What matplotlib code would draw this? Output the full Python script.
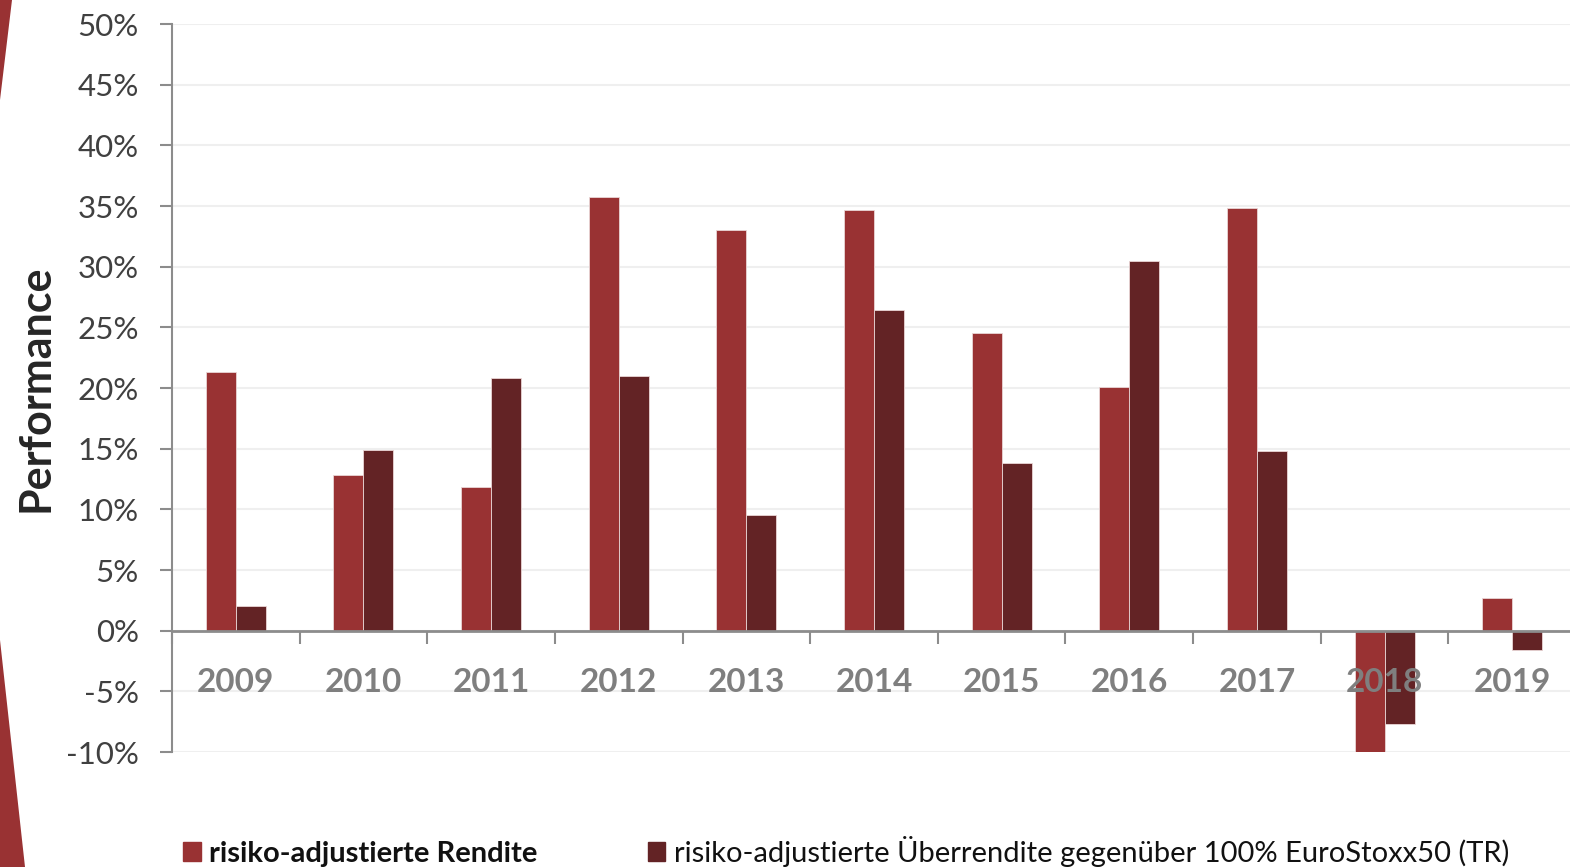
import numpy as np
import matplotlib.pyplot as plt
from matplotlib.patches import Polygon, Patch
from matplotlib.ticker import FuncFormatter, MultipleLocator

years = ['2009', '2010', '2011', '2012', '2013', '2014', '2015', '2016', '2017', '2018', '2019']
rendite = [21.3, 12.85, 11.85, 35.75, 33.0, 34.7, 24.5, 20.1, 34.8, -10.2, 2.7]
ueberrendite = [2.05, 14.9, 20.8, 21.0, 9.5, 26.4, 13.8, 30.5, 14.8, -7.7, -1.6]
labels = ['risiko-adjustierte Rendite',
          'risiko-adjustierte Überrendite gegenüber 100% EuroStoxx50 (TR)']

red = '#993233'
dark = '#632325'
plt.rcParams['font.family'] = ['Lato', 'DejaVu Sans']

fig = plt.figure(figsize=(15.7, 8.67), dpi=100)
ax = fig.add_axes([172/1570, 1-752/867, (1576-172)/1570, (752-24)/867])

x = np.arange(len(years))
w = 0.235
ax.bar(x - w/2, rendite, w, color=red, edgecolor='#ead6d6', linewidth=0.6, zorder=2)
ax.bar(x + w/2, ueberrendite, w, color=dark, edgecolor='#ead6d6', linewidth=0.6, zorder=2)

ax.set_xlim(-0.5, len(years) - 0.5)
ax.set_ylim(-10, 50)
ax.yaxis.set_major_locator(MultipleLocator(5))
ax.yaxis.set_major_formatter(FuncFormatter(lambda v, p: '%d%%' % round(v)))
ax.grid(axis='y', color='#efefef', linewidth=1.5, zorder=0)
ax.set_axisbelow(True)

for s in ['top', 'right']:
    ax.spines[s].set_visible(False)
ax.spines['left'].set_color('#8c8c8c')
ax.spines['left'].set_linewidth(1.5)
ax.spines['bottom'].set_position(('data', 0))
ax.spines['bottom'].set_color('#8c8c8c')
ax.spines['bottom'].set_linewidth(2)
ax.spines['bottom'].set_zorder(3)

# year labels sit on top of the bars
ax.set_xticks([])
ax.set_xticks(np.arange(len(years) + 1) - 0.5, minor=True)
ax.tick_params(axis='x', which='minor', length=9, width=1.5, color='#8c8c8c',
               direction='out')
for i, yr in enumerate(years):
    ax.text(x[i], -4.3, yr, ha='center', va='center', fontsize=24,
            fontweight='bold', color='#7f7f7f', zorder=5)

ax.tick_params(axis='y', length=9, width=1.5, color='#8c8c8c', labelsize=22.5,
               labelcolor='#404040', pad=15)

ax.set_ylabel('Performance', fontsize=31, fontweight='bold', color='#262626')
ax.yaxis.set_label_coords(-0.083, 0.5)

handles = [Patch(color=red), Patch(color=dark)]
leg = fig.legend(handles, labels, ncol=2, loc='lower left',
                 bbox_to_anchor=(183/1570, 0.0), frameon=False,
                 fontsize=21, handlelength=0.6, handleheight=0.6,
                 handletextpad=0.28, columnspacing=3.8,
                 borderpad=0, borderaxespad=0)
leg.get_texts()[0].set_fontweight('bold')
for t in leg.get_texts():
    t.set_color('#111111')

# decorative wedges at the left edge
fig.patches.append(Polygon([(0, 1), (12/1570, 1), (0, 1-100/867)],
                           closed=True, transform=fig.transFigure,
                           facecolor=red, edgecolor='none'))
fig.patches.append(Polygon([(0, 1-640/867), (25/1570, 0), (0, 0)],
                           closed=True, transform=fig.transFigure,
                           facecolor=red, edgecolor='none'))

fig.savefig('out.png', dpi=100)
